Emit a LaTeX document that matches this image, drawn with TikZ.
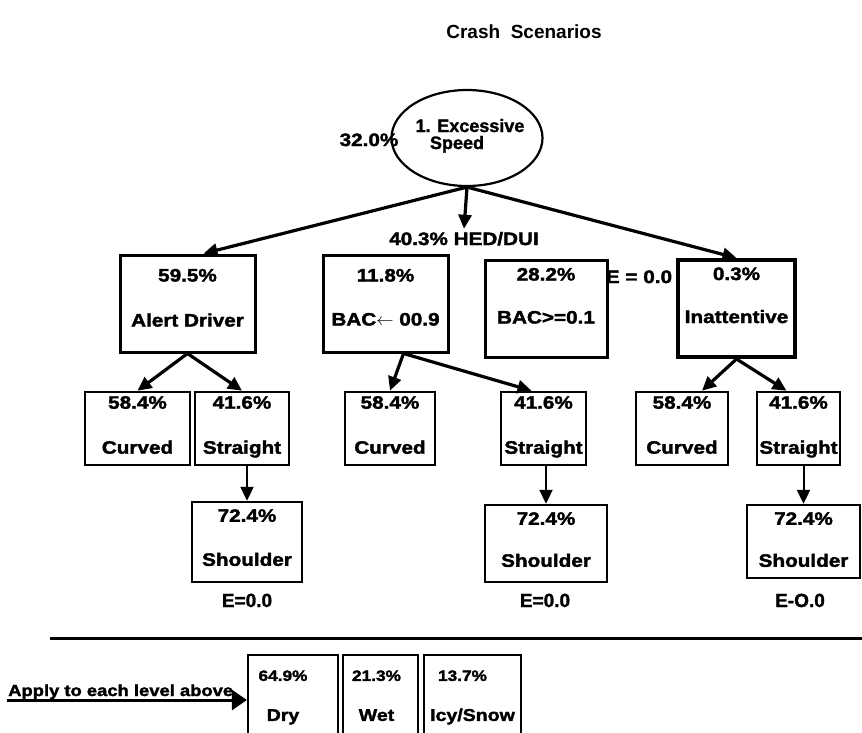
\documentclass[tikz,border=0pt]{standalone}
\usepackage{fontspec}
\setmainfont{Liberation Sans}
\newfontfamily\heavy{Liberation Sans Bold}[FakeStretch=1.15, FakeBold=2]
\newfontfamily\heavyplain{Liberation Sans Bold}[FakeBold=1.5]
\usetikzlibrary{arrows.meta,shapes.geometric,fit,calc}

% fonts used in the tree
\newcommand\boxfont{\heavy\fontsize{18}{18}\selectfont}
\newcommand\ovalfont{\heavyplain\fontsize{18}{18}\selectfont}
\newcommand\smallpct{\heavy\fontsize{15}{15}\selectfont}
\newcommand\condfont{\heavy\fontsize{17}{17}\selectfont}
\newcommand\plainbold{\heavyplain\fontsize{19}{19}\selectfont}

\tikzset{
  cell/.style={draw, line width=2.6pt, inner sep=0pt},
  topcell/.style={cell, line width=3pt},
  keycell/.style={cell, line width=4pt},
  leafcell/.style={cell, line width=2.4pt},
  surfcell/.style={cell, line width=2.2pt},
  boxtext/.style={font=\boxfont, inner sep=0pt},
  oval/.style={draw, ellipse, line width=2.2pt, inner sep=0pt,
    minimum width=151pt, minimum height=96pt},
  arr/.style={line width=3.2pt, -{Triangle[length=14pt,width=13pt]}},
  rule/.style={line width=3pt},
}

% box with a percentage on top and a label below it
% #1 style, #2 name, #3 corner, #4 corner, #5 percentage, #6 label,
% #7 drop of percentage baseline, #8 drop of label baseline
\newcommand\tallybox[8]{%
  \node[#1, fit={(#3) (#4)}] (#2) {};
  \node[boxtext, anchor=base] (#2-pct) at ($(#2.north)+(0,#7)$) {#5};
  \node[boxtext, anchor=base] (#2-lbl) at ($(#2.north)+(0,#8)$) {#6};
}

\begin{document}
\begin{tikzpicture}[x=1pt, y=-1pt]
\useasboundingbox (0,0) rectangle (862,732);
\clip (0,0) rectangle (862,732);

% title
\node[font=\bfseries\fontsize{19}{19}\selectfont, anchor=base, inner sep=0pt]
  (title) at (524,38) {Crash\ \ Scenarios};

% root
\node[oval] (speed) at (467,138) {};
\node[font=\ovalfont, anchor=base, inner sep=0pt]
  (speed-l1) at (470,132) {1. Excessive};
\node[font=\ovalfont, anchor=base, inner sep=0pt]
  (speed-l2) at (457,149) {Speed};
\node[boxtext, anchor=base] (share) at (369,146) {32.0\%};

\node[boxtext, anchor=base, inner sep=3pt] (hed) at (464,245) {40.3\% HED/DUI};

% second level
\tallybox{topcell}{alert}{120,255}{255,352}{59.5\%}{Alert Driver}{28}{73}
\tallybox{topcell}{bacA}{323,255}{448,352}{11.8\%}{BAC\(\leftarrow\) 00.9}{28}{72}
\tallybox{topcell}{bacB}{485,260}{607,357}{28.2\%}{BAC>=0.1}{22}{65}
\tallybox{keycell}{inatt}{678,260}{795,357}{0.3\%}{Inattentive}{22}{65}
\node[boxtext, anchor=base] (eB) at (639,283) {E = 0.0};

% third level
\tallybox{cell}{curvA}{85,392}{190,465}{58.4\%}{Curved}{18}{63}
\tallybox{cell}{strA}{195,392}{289,465}{41.6\%}{Straight}{18}{63}
\tallybox{cell}{curvB}{345,392}{435,465}{58.4\%}{Curved}{18}{63}
\tallybox{cell}{strB}{501,392}{586,465}{41.6\%}{Straight}{18}{63}
\tallybox{cell}{curvC}{636,392}{728,465}{58.4\%}{Curved}{18}{63}
\tallybox{cell}{strC}{757,392}{840,465}{41.6\%}{Straight}{18}{63}

% fourth level
\tallybox{leafcell}{shA}{192,502}{302,582}{72.4\%}{Shoulder}{21}{65}
\tallybox{leafcell}{shB}{485,505}{607,582}{72.4\%}{Shoulder}{21}{63}
\tallybox{leafcell}{shC}{747,505}{860,578}{72.4\%}{Shoulder}{21}{63}
\node[font=\plainbold, anchor=base, inner sep=0pt] (eA) at (247,607) {E=0.0};
\node[font=\plainbold, anchor=base, inner sep=0pt] (eC) at (545,607) {E=0.0};
\node[font=\plainbold, anchor=base, inner sep=0pt] (eD) at (800,607) {E-O.0};

% connectors
\draw[arr] (speed.south) -- ([xshift=16pt]alert.north);
\draw[arr] (speed.south) -- (inatt.north);
\draw[arr] (speed.south) -- (hed.north);

\draw[arr] (alert.south) -- (curvA.north);
\draw[arr] (alert.south) -- (strA.north);
\draw[arr] ([xshift=18pt]bacA.south) -- (curvB.north);
\draw[arr] ([xshift=18pt]bacA.south) -- ([xshift=-12pt]strB.north);
\draw[arr] (inatt.south) -- ([xshift=20pt]curvC.north);
\draw[arr] (inatt.south) -- ([xshift=-12pt]strC.north);

\draw[arr, line width=2pt] (shA.north |- strA.south) -- (shA.north);
\draw[arr, line width=2pt] (shB.north |- strB.south) -- (shB.north);
\draw[arr, line width=2pt] (shC.north |- strC.south) -- (shC.north);

% separator
\coordinate (ruleL) at (50,638);
\coordinate (ruleR) at (862,638);
\draw[rule] (ruleL) -- (ruleR);

% road surface split
\node[surfcell, fit={(248,655) (338,770)}] (dry) {};
\node[surfcell, fit={(343,655) (418,770)}] (wet) {};
\node[surfcell, fit={(424,655) (521,770)}] (icy) {};
\node[font=\smallpct, anchor=base, inner sep=0pt] (dry-pct) at ($(dry.north)+(-10,27)$) {64.9\%};
\node[font=\smallpct, anchor=base, inner sep=0pt] (wet-pct) at ($(wet.north)+(-4,27)$) {21.3\%};
\node[font=\smallpct, anchor=base, inner sep=0pt] (icy-pct) at ($(icy.north)+(-10,27)$) {13.7\%};
\node[font=\condfont, anchor=base, inner sep=0pt] (dry-lbl) at ($(dry.north)+(-10,67)$) {Dry};
\node[font=\condfont, anchor=base, inner sep=0pt] (wet-lbl) at ($(wet.north)+(-4,67)$) {Wet};
\node[font=\condfont, anchor=base, inner sep=0pt] (icy-lbl) at ($(icy.north)+(0,67)$) {Icy/Snow};

\coordinate (applyStart) at (7,700);
\draw[arr, line width=3pt, -{Triangle[length=15pt,width=20pt]}]
  (applyStart) -- (dry.west |- applyStart);
\node[font=\heavy\fontsize{16}{16}\selectfont, inner sep=0pt, anchor=base west]
  (apply) at (8,696) {Apply to each level above};
\end{tikzpicture}
\end{document}
